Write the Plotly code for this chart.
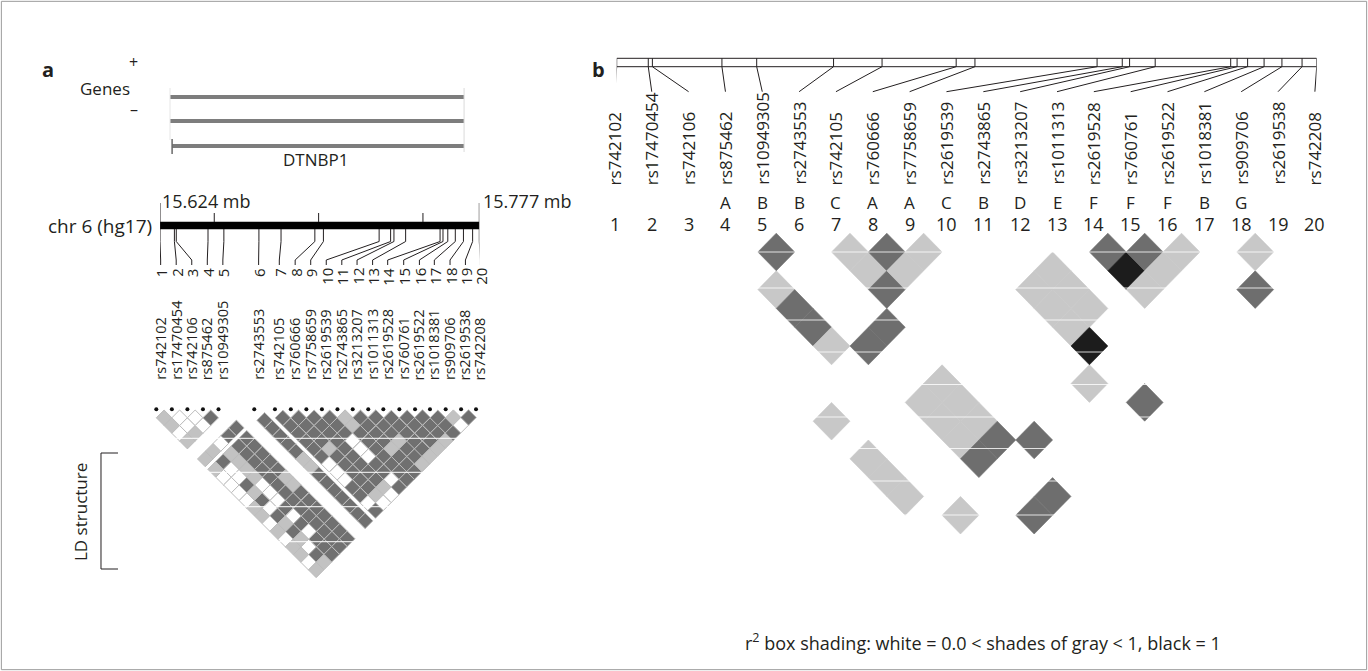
import plotly.graph_objects as go

W, H = 1368, 671

# ---------------- data ----------------
snp_ids = ["rs742102", "rs17470454", "rs742106", "rs875462", "rs10949305",
           "rs2743553", "rs742105", "rs760666", "rs7758659", "rs2619539",
           "rs2743865", "rs3213207", "rs1011313", "rs2619528", "rs760761",
           "rs2619522", "rs1018381", "rs909706", "rs2619538", "rs742208"]
snp_numbers = list(range(1, 21))
snp_offset_kb = [0.0, 6.9, 7.8, 23.0, 30.6, 47.4, 58.0, 74.2, 78.3, 105.0,
                 110.5, 112.1, 117.7, 134.2, 135.6, 137.9, 141.5, 145.4, 149.8, 153.0]
block_letters = ["", "", "", "A", "B", "B", "C", "A", "A", "C",
                 "B", "D", "E", "F", "F", "F", "B", "G", "", ""]
region_start_mb = 15.624
region_end_mb = 15.777
scale_ticks_mb = [15.65, 15.70, 15.75]
gene_name = "DTNBP1"
transcript_start_mb = [15.6288, 15.6288, 15.6298]
transcript_end_mb = [15.7697, 15.7697, 15.7697]

# panel a LD structure: row i gives r2 class for j = i+1 .. 20
# W = white, L = light grey, D = dark grey
ld_a_rows = [
    "LLWLLLWWWWLLWLWLLWL",
    "WWLLDWWDLDWDLDLWDL",
    "WWWLLLLWWWDWDWDDD",
    "DDDDDDDDDDDDDDDD",
    "DDDDDDLLDDDDDDD",
    "DDDDDLLDDDDDDD",
    "DDDDDDWWWDDWD",
    "DDDDLDDDDDLW",
    "DDDDDDDDDLW",
    "DDDWWWDDWD",
    "LLDDDDDDD",
    "DDDDLDDD",
    "DDDLDDL",
    "DDDDDL",
    "DDDDL",
    "DDDL",
    "DDD",
    "LW",
    "D",
]

# panel b: r2 boxes that are not white (L light, D dark, K black)
ldb_i = [2, 2, 2, 2, 3, 4, 4, 4, 4, 5, 5, 5, 5, 5, 5, 5,
         6, 6, 6, 6, 6, 6, 7, 7, 7, 7, 8, 8, 9, 10,
         11, 11, 11, 11, 11, 12, 12, 12, 14, 14, 14, 15, 15, 16, 17, 18]
ldb_j = [12, 14, 15, 16, 18, 7, 8, 9, 10, 6, 11, 14, 15, 16, 17, 20,
         11, 14, 15, 16, 17, 20, 8, 9, 10, 18, 9, 10, 10, 18,
         14, 15, 16, 17, 20, 14, 15, 16, 15, 16, 17, 16, 17, 17, 20, 19]
ldb_class = ["L", "L", "L", "L", "L", "L", "D", "D", "L", "D", "D", "L", "L", "L", "D", "D",
             "D", "L", "L", "L", "D", "D", "L", "L", "D", "D", "D", "L", "L", "L",
             "L", "L", "L", "K", "D", "L", "L", "L", "D", "K", "L", "D", "L", "L", "D", "L"]

# ---------------- layout / style constants ----------------
FONT = "Open Sans, Liberation Sans, sans-serif"
TXT = "#231f20"
shade_a = {"W": "#ffffff", "L": "#c2c2c2", "D": "#707070"}
shade_b = {"L": "#c8c8c8", "D": "#6e6e6e", "K": "#1c1c1c"}

A_BAR_PX = (160.0, 479.3)
B_BAR_PX = (616.7, 1316.7)
# Haploview marker display positions for panel a (slot units)
a_marker_slot = [0, 1, 2, 3, 4, 6.3, 7.63, 8.65, 9.65, 10.65, 11.65, 12.63,
                 13.63, 14.6, 15.63, 16.64, 17.6, 18.61, 19.6, 20.56]
A_PX0, A_UNIT, A_TOP = 156.3, 15.55, 410.0
B_PX0, B_UNIT, B_TOP, B_VUNIT = 573.66, 36.84, 233.2, 37.6

snp_mb = [region_start_mb + kb / 1000.0 for kb in snp_offset_kb]


def a_slot_to_mb(s):
    px = A_PX0 + A_UNIT * s
    return region_start_mb + (px - A_BAR_PX[0]) / (A_BAR_PX[1] - A_BAR_PX[0]) * (region_end_mb - region_start_mb)


def b_idx_to_mb(k):
    px = B_PX0 + B_UNIT * k
    return region_start_mb + (px - B_BAR_PX[0]) / (B_BAR_PX[1] - B_BAR_PX[0]) * (region_end_mb - region_start_mb)


shapes = []
annotations = []


def line(xref, yref, x0, y0, x1, y1, color=TXT, width=1.0):
    shapes.append(dict(type="line", xref=xref, yref=yref, x0=x0, y0=y0, x1=x1, y1=y1,
                       line=dict(color=color, width=width)))


def path(xref, yref, pts, fill=None, color=TXT, width=1.0, closed=False):
    d = "M " + " L ".join(f"{x:.6f},{y:.6f}" for x, y in pts) + (" Z" if closed else "")
    s = dict(type="path", xref=xref, yref=yref, path=d, line=dict(color=color, width=width))
    if fill:
        s["fillcolor"] = fill
    shapes.append(s)


def text(t, x, y, xref="paper", yref="y", size=15, xanchor="center", yanchor="middle", angle=0):
    if xref == "paper":
        x = x / W
    annotations.append(dict(text=t, x=x, y=y, xref=xref, yref=yref, showarrow=False,
                            font=dict(family=FONT, size=size, color=TXT),
                            xanchor=xanchor, yanchor=yanchor, textangle=angle, borderpad=0))


def diamond(cx, cy, h):
    return [(cx - h, cy), (cx, cy - h), (cx + h, cy), (cx, cy + h)]


# ---------------- panel a: genes ----------------
text("<b>a</b>", 48, 69, size=20)
text("+", 133, 62, size=16)
text("Genes", 131, 88, size=17, xanchor="right")
text("–", 134, 109, size=16)
gene_rows_px = [97, 121, 146]
for s, e, yy in zip(transcript_start_mb, transcript_end_mb, gene_rows_px):
    line("x", "y", s, yy, e, yy, color="#7d7d7d", width=4)
line("x", "y", transcript_end_mb[0], 88, transcript_end_mb[0], 152, color="#dadada", width=1)
line("x", "y", transcript_start_mb[0], 88, transcript_start_mb[0], 140, color="#e6e6e6", width=1)
line("x", "y", transcript_start_mb[2], 139, transcript_start_mb[2], 154, color="#6a6a6a", width=1.5)
text(gene_name, (A_BAR_PX[0] + A_BAR_PX[1]) / 2 - 4, 159, size=17)

# ---------------- panel a: chromosome bar ----------------
text("chr 6 (hg17)", 153, 226, size=19, xanchor="right")
text(f"{region_start_mb:.3f} mb", 161, 201, size=18, xanchor="left")
text(f"{region_end_mb:.3f} mb", 482, 201, size=18, xanchor="left")
shapes.append(dict(type="rect", xref="x", yref="y", x0=region_start_mb, x1=region_end_mb,
                   y0=221.7, y1=229.3, fillcolor="#000000", line=dict(width=0)))
for t in scale_ticks_mb:
    line("x", "y", t, 213, t, 222)
line("x", "y", region_start_mb, 203, region_start_mb, 229)
line("x", "y", region_end_mb, 203, region_end_mb, 229)

a_label_slot = [s + 0.28 for s in a_marker_slot]
for k in range(20):
    lab_mb = a_slot_to_mb(a_label_slot[k])
    path("x", "y", [(snp_mb[k], 229), (snp_mb[k], 241.5), (lab_mb, 260), (lab_mb, 265)], width=1)
    text(str(snp_numbers[k]), a_label_slot[k], 267, xref="x2", size=15, yanchor="top", angle=-90)
    text(snp_ids[k], a_marker_slot[k] + 0.25, 381, xref="x2", size=14.5, yanchor="bottom", angle=-90)

# ---------------- panel a: LD structure ----------------
for i, row in enumerate(ld_a_rows):
    for n, c in enumerate(row):
        j = i + 1 + n
        si, sj = a_marker_slot[i], a_marker_slot[j]
        cx, cy = (si + sj) / 2, (sj - si) / 2
        path("x2", "y2", diamond(cx, cy, 0.5), fill=shade_a[c], color="#bcbcbc", width=1, closed=True)
for yy in [438.3, 472.3, 506.7, 541.7]:
    line("paper", "y", 150 / W, yy, 482 / W, yy, color="rgba(255,255,255,0.8)", width=1.2)

text("LD structure", 80, 512, size=17, angle=-90)
path("paper", "y", [(118 / W, 453), (101 / W, 453), (101 / W, 569), (118 / W, 569)], width=1)

# ---------------- panel b ----------------
text("<b>b</b>", 598, 69, size=20)
line("x4", "y", region_start_mb, 58.3, region_end_mb, 58.3)
line("x4", "y", region_start_mb, 66.7, region_end_mb, 66.7)
for k in range(20):
    m = snp_mb[k]
    lab = snp_numbers[k] + 0.12
    line("x4", "y", m, 58.3, m, 66.7)
    line("x4", "y", m, 66.7, b_idx_to_mb(lab), 91.7)
    text(snp_ids[k], lab, 186, xref="x3", size=17, yanchor="bottom", angle=-90)
    if block_letters[k]:
        text(block_letters[k], lab, 202, xref="x3", size=17)
    text(str(snp_numbers[k]), lab, 224, xref="x3", size=18)

for i, j, c in zip(ldb_i, ldb_j, ldb_class):
    cx, cv = (i + j) / 2, (j - i) / 2
    path("x3", "y3", diamond(cx, cv, 0.5), fill=shade_b[c], color=shade_b[c], width=0.6, closed=True)
for yy in [252, 288, 320, 352, 384.5, 417, 448.5, 481, 515]:
    line("paper", "y", 756 / W, yy, 1300 / W, yy, color="rgba(255,255,255,0.8)", width=1.2)

text("r<sup>2</sup> box shading: white = 0.0 &lt; shades of gray &lt; 1, black = 1", 744, 642,
     size=18, xanchor="left")

# figure frame
shapes.append(dict(type="rect", xref="paper", yref="paper", x0=0.001, x1=0.999, y0=0.002, y1=0.998,
                   line=dict(color="#9c9c9c", width=1)))

# ---------------- traces ----------------
fig = go.Figure()
fig.add_trace(go.Scatter(x=[snp_mb[0]], y=[0], xaxis="x", yaxis="y", mode="markers",
                         marker=dict(opacity=0), hoverinfo="skip", showlegend=False))
fig.add_trace(go.Scatter(x=a_marker_slot, y=[-0.05] * 20, xaxis="x2", yaxis="y2", mode="markers",
                         marker=dict(color="#111111", size=4), hoverinfo="skip", showlegend=False))
fig.add_trace(go.Scatter(x=[1], y=[0], xaxis="x3", yaxis="y3", mode="markers",
                         marker=dict(opacity=0), hoverinfo="skip", showlegend=False))
fig.add_trace(go.Scatter(x=[snp_mb[0]], y=[0], xaxis="x4", yaxis="y", mode="markers",
                         marker=dict(opacity=0), hoverinfo="skip", showlegend=False))


def xdom(p0, p1):
    return [p0 / W, p1 / W]


def ydom(p0, p1):
    return [1 - p1 / H, 1 - p0 / H]


hid = dict(visible=False, fixedrange=True, showgrid=False, zeroline=False, autorange=False)
fig.update_layout(
    width=W, height=H, margin=dict(l=0, r=0, t=0, b=0), autosize=False,
    paper_bgcolor="white", plot_bgcolor="rgba(0,0,0,0)", hovermode=False, showlegend=False,
    xaxis=dict(domain=xdom(*A_BAR_PX), range=[region_start_mb, region_end_mb], anchor="y", **hid),
    yaxis=dict(domain=[0, 1], range=[H, 0], anchor="x", **hid),
    xaxis2=dict(domain=xdom(100, 500), range=[(100 - A_PX0) / A_UNIT, (500 - A_PX0) / A_UNIT],
                anchor="y2", **hid),
    yaxis2=dict(domain=ydom(395, 600), range=[(600 - A_TOP) / A_UNIT, (395 - A_TOP) / A_UNIT],
                anchor="x2", **hid),
    xaxis3=dict(domain=xdom(580, 1345), range=[(580 - B_PX0) / B_UNIT, (1345 - B_PX0) / B_UNIT],
                anchor="y3", **hid),
    yaxis3=dict(domain=ydom(225, 625), range=[(625 - B_TOP) / B_VUNIT, (225 - B_TOP) / B_VUNIT],
                anchor="x3", **hid),
    xaxis4=dict(domain=xdom(*B_BAR_PX), range=[region_start_mb, region_end_mb], anchor="y", **hid),
    shapes=shapes, annotations=annotations,
)

fig.write_html("out.html", config={"displayModeBar": False},
               post_script="document.body.style.margin='0px';document.body.style.padding='0px';")
